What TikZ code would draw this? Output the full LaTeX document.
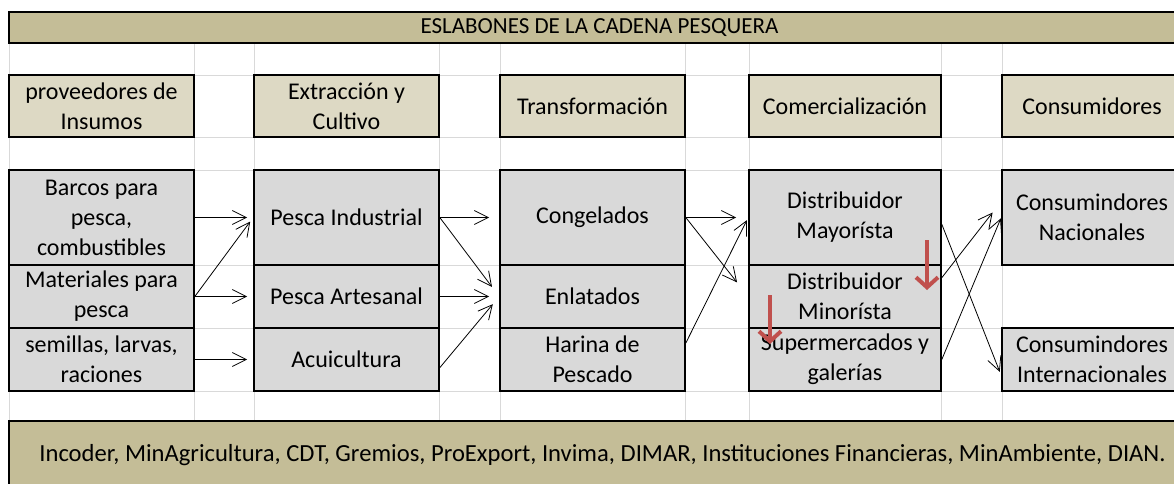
\documentclass[tikz,border=0pt]{standalone}
\usepackage{fontspec}
\setmainfont{Carlito}
\usetikzlibrary{arrows.meta}
\definecolor{barra}{HTML}{C4BD97}
\definecolor{encabezado}{HTML}{DDD9C4}
\definecolor{celda}{HTML}{D9D9D9}
\definecolor{rejilla}{HTML}{D9D9D9}
\definecolor{rojo}{HTML}{C0504D}
\tikzset{
  texto/.style={font=\fontsize{24}{30}\selectfont, align=center, inner sep=0pt},
  caja/.style={texto, draw=black, line width=1.6pt, fill=celda, minimum width=185pt},
  cabeza/.style={caja, fill=encabezado, minimum height=62pt},
  filauno/.style={minimum height=95pt},
  filados/.style={minimum height=63pt},
  flecha/.style={-{Straight Barb[length=14pt,width=14pt]}, line width=0.8pt},
  flecharoja/.style={draw=rojo, line width=4pt, -{Straight Barb[length=10pt,width=22pt]}}
}
\begin{document}
\begin{tikzpicture}[x=1pt, y=-1pt]
  \useasboundingbox (0,0) rectangle (1174,483);
  \clip (0,0) rectangle (1174,483);
  % cuadricula de fondo
  \draw[rejilla, line width=1pt] (9,43) -- (9,422) (194,43) -- (194,422) (254,43) -- (254,422)
    (439,43) -- (439,422) (500,43) -- (500,422) (685,43) -- (685,422)
    (749,43) -- (749,422) (941,43) -- (941,422) (1002,43) -- (1002,422)
    (9,75) -- (1174,75) (9,137) -- (1174,137) (9,170) -- (1174,170)
    (9,265) -- (1174,265) (9,328) -- (1174,328) (9,391) -- (1174,391);
  % barras
  \node[caja, fill=barra, minimum width=1181pt, minimum height=31pt, font=\fontsize{23}{28}\selectfont] (titulo) at (599.5,27.5) {ESLABONES DE LA CADENA PESQUERA};
  \node[caja, fill=barra, minimum width=1181pt, minimum height=68pt, font=\fontsize{24.6}{30}\selectfont] (entidades) at (599.5,455) {\hspace*{6pt}Incoder, MinAgricultura, CDT, Gremios, ProExport, Invima, DIMAR, Instituciones Financieras, MinAmbiente, DIAN.};
  % eslabones
  \node[cabeza] (prov) at (101.5,106) {proveedores de\\Insumos};
  \node[cabeza] (extr) at (346.5,106) {Extracción y\\Cultivo};
  \node[cabeza] (trans) at (592.5,106) {Transformación};
  \node[cabeza, minimum width=192pt] (comer) at (845,106) {Comercialización};
  \node[cabeza, minimum width=180pt] (consu) at (1092,106) {Consumidores};
  % insumos
  \node[caja, filauno] (barcos) at (101.5,217.5) {Barcos para\\pesca,\\combustibles};
  \node[caja, filados] (mater) at (101.5,296.5) {Materiales para\\pesca};
  \node[caja, filados] (semil) at (101.5,359.5) {semillas, larvas,\\raciones};
  % extraccion
  \node[caja, filauno] (indus) at (346.5,217.5) {Pesca Industrial};
  \node[caja, filados] (artes) at (346.5,296.5) {Pesca Artesanal};
  \node[caja, filados] (acuic) at (346.5,359.5) {Acuicultura};
  % transformacion
  \node[caja, filauno] (congel) at (592.5,217.5) {Congelados};
  \node[caja, filados] (enlat) at (592.5,296.5) {Enlatados};
  \node[caja, filados] (harina) at (592.5,359.5) {Harina de\\Pescado};
  % comercializacion
  \node[caja, filauno, minimum width=192pt] (mayor) at (845,217.5) {Distribuidor\\Mayorísta};
  \node[caja, filados, minimum width=192pt] (minor) at (845,296.5) {Distribuidor\\Minorísta};
  \node[caja, filados, minimum width=192pt] (super) at (845,359.5) {Supermercados y\\galerías};
  % consumidores
  \node[caja, filauno, minimum width=180pt] (nacio) at (1092,217.5) {Consumindores\\Nacionales};
  \node[caja, filados, minimum width=180pt] (inter) at (1092,359.5) {Consumindores\\Internacionales};

  \draw[flecha, shorten >=6pt] (barcos.east) -- (indus.west);
  \draw[flecha, shorten >=5pt] (mater.east) -- (indus.west);
  \draw[flecha, shorten >=6pt] (mater.east) -- (artes.west);
  \draw[flecha, shorten >=6pt] (semil.east) -- (acuic.west);

  \draw[flecha, shorten >=10pt] (indus.east) -- (congel.west);
  \draw[flecha, shorten >=12pt] (indus.east) -- (enlat.west);
  \draw[flecha, shorten >=10pt] (artes.east) -- (enlat.west);
  \draw[flecha, shorten >=10pt] (acuic.-5) -- (enlat.west);

  \draw[flecha, shorten >=12pt] (congel.east) -- (mayor.west);
  \draw[flecha, shorten >=18pt] (congel.east) -- (minor.west);
  \draw[flecha, shorten >=3pt] (harina.10) -- (mayor.west);

  \draw[flecha, shorten >=4pt] (mayor.-4) -- (inter.190);
  \draw[flecha, shorten >=14pt] (minor.11) -- (nacio.170);
  \draw[flecha, shorten >=1pt] (super.east) -- (nacio.west);

  \coordinate (rojoA) at (927,240);
  \coordinate (rojoB) at (927,290);
  \coordinate (rojoC) at (770,295);
  \coordinate (rojoD) at (770,344);
  \draw[flecharoja] (rojoA) -- (rojoB);
  \draw[flecharoja] (rojoC) -- (rojoD);
\end{tikzpicture}
\end{document}
